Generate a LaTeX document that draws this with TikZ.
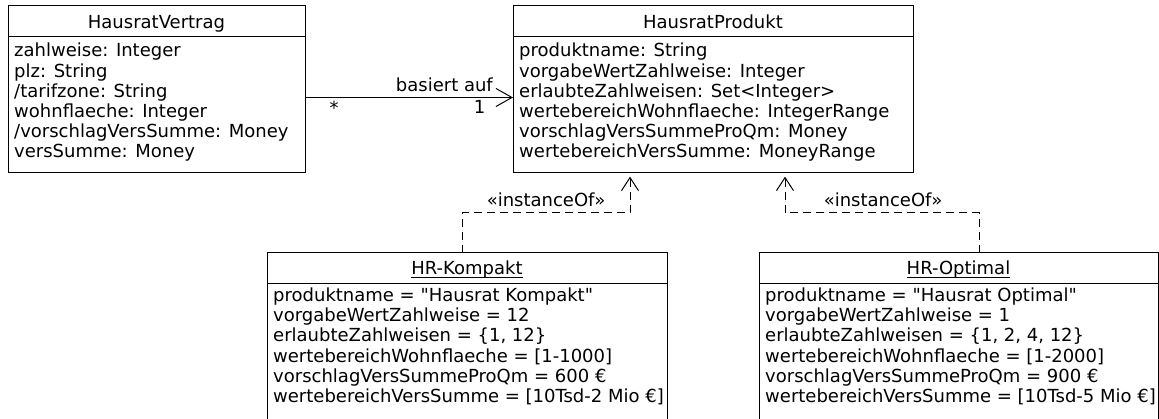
\documentclass[tikz,border=0pt]{standalone}
\usepackage{fontspec}
\setmainfont{DejaVu Sans}
\usetikzlibrary{arrows.meta}
\newcommand{\umlfont}{\fontsize{18pt}{20.2pt}\selectfont}

\tikzset{
  classbox/.style={draw, line width=1pt, inner sep=0pt, outer sep=0pt, anchor=north west},
  attrs/.style={anchor=base west, inner sep=0pt, align=left, font=\umlfont},
  title/.style={anchor=base, inner sep=0pt, font=\umlfont},
  lbl/.style={inner sep=0pt, font=\umlfont},
  assoc/.style={line width=1pt, -{Straight Barb[length=16pt, width=18pt, line width=1pt]}},
  instof/.style={line width=1pt, dash pattern=on 8pt off 5pt, -{Straight Barb[length=13pt, width=17pt, line width=1pt]}}
}

\begin{document}
\begin{tikzpicture}[x=1pt, y=-1pt]
			%%%%% START %%%%%
			\useasboundingbox (0,0) rectangle (1159,419);
			\clip (0,0) rectangle (1159,419);
			
			% class HausratVertrag
			\node[classbox, minimum width=297pt, minimum height=167pt] (vertrag) at (8,6) {};
			\draw[line width=1pt] (vertrag.north west) ++(0,31) -- ++(297,0);
			\node[title] (vertragname) at (156.5,29) {HausratVertrag};
			\node[attrs] (vertragattr) at (14,158) {zahlweise: Integer\\plz: String\\/tarifzone: String\\wohnflaeche: Integer\\/vorschlagVersSumme: Money\\versSumme: Money};
			
			% class HausratProdukt
			\node[classbox, minimum width=400pt, minimum height=167pt] (produkt) at (513,6) {};
			\draw[line width=1pt] (produkt.north west) ++(0,31) -- ++(400,0);
			\node[title] (produktname) at (713,29) {HausratProdukt};
			\node[attrs] (produktattr) at (519,158) {produktname: String\\vorgabeWertZahlweise: Integer\\erlaubteZahlweisen: Set<Integer>\\wertebereichWohnflaeche: IntegerRange\\vorschlagVersSummeProQm: Money\\wertebereichVersSumme: MoneyRange};
			
			% object HR-Kompakt
			\node[classbox, minimum width=400pt, minimum height=190pt] (kompakt) at (267,253) {};
			\draw[line width=1pt] (kompakt.north west) ++(0,31) -- ++(400,0);
			\node[title] (kompaktname) at (467,275) {HR-Kompakt};
			\draw[line width=0.8pt] ([yshift=-2pt]kompaktname.base west) -- ([yshift=-2pt]kompaktname.base east);
			\begin{scope}
				\clip (kompakt.north west) rectangle (kompakt.south east);
				\node[attrs] (kompaktattr) at (273,402.5) {produktname = \textquotedbl Hausrat Kompakt\textquotedbl\\vorgabeWertZahlweise = 12\\erlaubteZahlweisen = \{1, 12\}\\wertebereichWohnflaeche = [1-1000]\\vorschlagVersSummeProQm = 600 €\\wertebereichVersSumme = [10Tsd-2 Mio €]};
			\end{scope}
			
			% object HR-Optimal
			\node[classbox, minimum width=399pt, minimum height=190pt] (optimal) at (759,253) {};
			\draw[line width=1pt] (optimal.north west) ++(0,31) -- ++(399,0);
			\node[title] (optimalname) at (958.5,275) {HR-Optimal};
			\draw[line width=0.8pt] ([yshift=-2pt]optimalname.base west) -- ([yshift=-2pt]optimalname.base east);
			\begin{scope}
				\clip (optimal.north west) rectangle (optimal.south east);
				\node[attrs] (optimalattr) at (765,402.5) {produktname = \textquotedbl Hausrat Optimal\textquotedbl\\vorgabeWertZahlweise = 1\\erlaubteZahlweisen = \{1, 2, 4, 12\}\\wertebereichWohnflaeche = [1-2000]\\vorschlagVersSummeProQm = 900 €\\wertebereichVersSumme = [10Tsd-5 Mio €]};
			\end{scope}
			
			% association
			\draw[assoc] (vertrag.east |- 0,97.5) -- (produkt.west |- 0,97.5);
			\node[lbl, anchor=base east] (basiert) at (493,92) {basiert auf};
			\node[lbl, anchor=base] (many) at (334,115) {*};
			\node[lbl, anchor=base east] (one) at (485.5,114) {1};
			
			% instanceOf
			\draw[instof] ([xshift=-5pt]kompakt.north) -- ++(0,-40) -| ([xshift=-83pt, yshift=-3.7pt]produkt.south);
			\node[lbl, anchor=base] (instk) at (546,207) {«instanceOf»};
			\draw[instof] ([xshift=20.8pt]optimal.north) -- ++(0,-40) -| ([xshift=72pt, yshift=-3.7pt]produkt.south);
			\node[lbl, anchor=base] (insto) at (883,207) {«instanceOf»};
			
			%%%%% END %%%%%
\end{tikzpicture}
\end{document}
